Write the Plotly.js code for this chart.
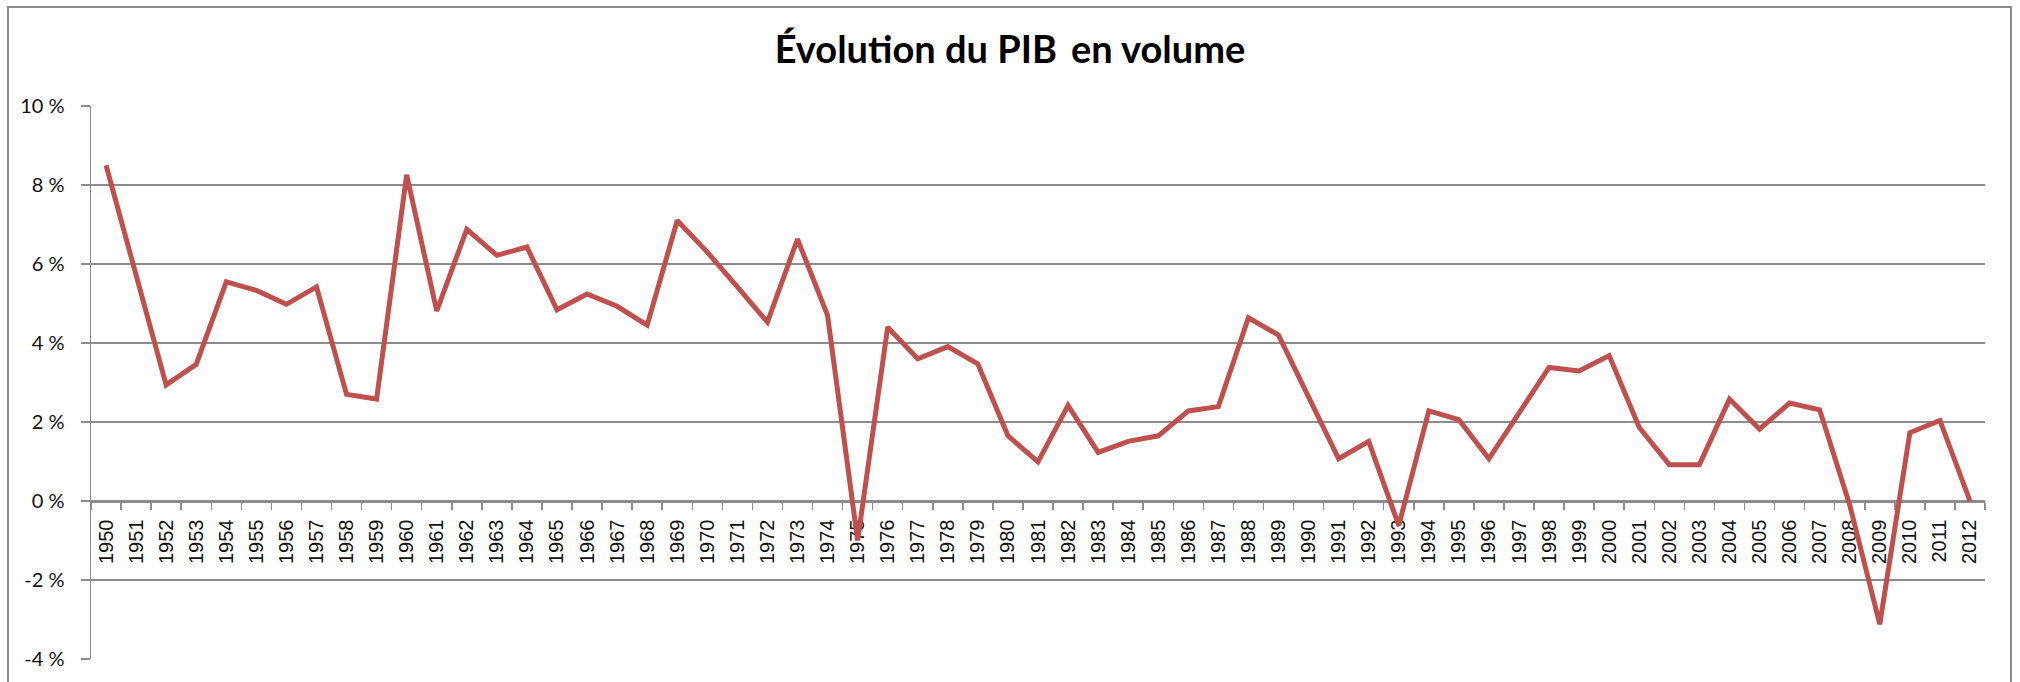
<!DOCTYPE html>
<html>
<head>
<meta charset="utf-8">
<script src="https://cdn.plot.ly/plotly-3.0.1.min.js"></script>
<style>
  html, body { margin: 0; padding: 0; background: #fff; }
  #chart { width: 2020px; height: 682px; }
  #frame { position: absolute; left: 7px; top: 6px; width: 2005px; height: 700px;
           border: 2px solid #8c8c8c; pointer-events: none; box-sizing: border-box; }
</style>
</head>
<body>
<div id="chart"></div>
<div id="frame"></div>
<script>
const years = ["1950","1951","1952","1953","1954","1955","1956","1957","1958","1959",
  "1960","1961","1962","1963","1964","1965","1966","1967","1968","1969",
  "1970","1971","1972","1973","1974","1975","1976","1977","1978","1979",
  "1980","1981","1982","1983","1984","1985","1986","1987","1988","1989",
  "1990","1991","1992","1993","1994","1995","1996","1997","1998","1999",
  "2000","2001","2002","2003","2004","2005","2006","2007","2008","2009",
  "2010","2011","2012"];
const growth = [8.5, 5.7, 2.94, 3.46, 5.55, 5.33, 4.98, 5.42, 2.70, 2.58,
  8.26, 4.81, 6.88, 6.22, 6.43, 4.84, 5.24, 4.93, 4.45, 7.10,
  6.30, 5.42, 4.53, 6.63, 4.70, -1.0, 4.40, 3.60, 3.91, 3.47,
  1.65, 0.99, 2.42, 1.23, 1.51, 1.65, 2.28, 2.39, 4.64, 4.20,
  2.66, 1.07, 1.51, -0.62, 2.28, 2.06, 1.07, 2.2, 3.38, 3.29,
  3.68, 1.86, 0.92, 0.92, 2.58, 1.82, 2.48, 2.31, -0.1, -3.12,
  1.73, 2.04, 0.0];
const yTickVals = [-4, -2, 0, 2, 4, 6, 8, 10];
const yTickText = ["-4 %", "-2 %", "0 %", "2 %", "4 %", "6 %", "8 %", "10 %"];
const titleText = "Évolution du PIB&#8201; en volume";
const yMin = -4, yMax = 10;

const trace = {
  type: "scatter",
  mode: "lines",
  x: years,
  y: growth,
  line: { color: "#C0504D", width: 5 },
  hoverinfo: "skip"
};

const layout = {
  width: 2020,
  height: 682,
  margin: { l: 91, r: 35, t: 106, b: 23, pad: 0 },
  paper_bgcolor: "#ffffff",
  plot_bgcolor: "#ffffff",
  showlegend: false,
  title: {
    text: titleText,
    x: 0.5, xref: "container", xanchor: "center",
    y: 1 - 50 / 682, yref: "container", yanchor: "middle",
    font: { family: "Lato", size: 38, color: "#000000", weight: "bold" }
  },
  xaxis: {
    type: "category",
    range: [-0.5, years.length - 0.5],
    anchor: "free",
    position: (0 - yMin) / (yMax - yMin),
    showgrid: false,
    zeroline: false,
    showline: true,
    linecolor: "#8c8c8c",
    linewidth: 1.5,
    ticks: "outside",
    tickson: "boundaries",
    ticklen: 7,
    tickcolor: "#8c8c8c",
    tickwidth: 1.5,
    tickangle: -90,
    ticklabelstandoff: 9,
    tickfont: { family: "Liberation Sans", size: 20, color: "#111111" },
    layer: "below traces",
    fixedrange: true
  },
  yaxis: {
    range: [yMin, yMax],
    domain: [0, 1],
    tickvals: yTickVals,
    ticktext: yTickText,
    showgrid: true,
    gridcolor: "#8c8c8c",
    gridwidth: 1.5,
    zeroline: false,
    showline: true,
    linecolor: "#8c8c8c",
    linewidth: 1.5,
    ticks: "outside",
    ticklen: 9,
    tickcolor: "#8c8c8c",
    tickwidth: 1.5,
    ticklabelstandoff: 12,
    tickfont: { family: "Lato", size: 20, color: "#111111" },
    layer: "below traces",
    fixedrange: true
  }
};

Plotly.newPlot("chart", [trace], layout, { staticPlot: true, displayModeBar: false });
</script>
</body>
</html>
